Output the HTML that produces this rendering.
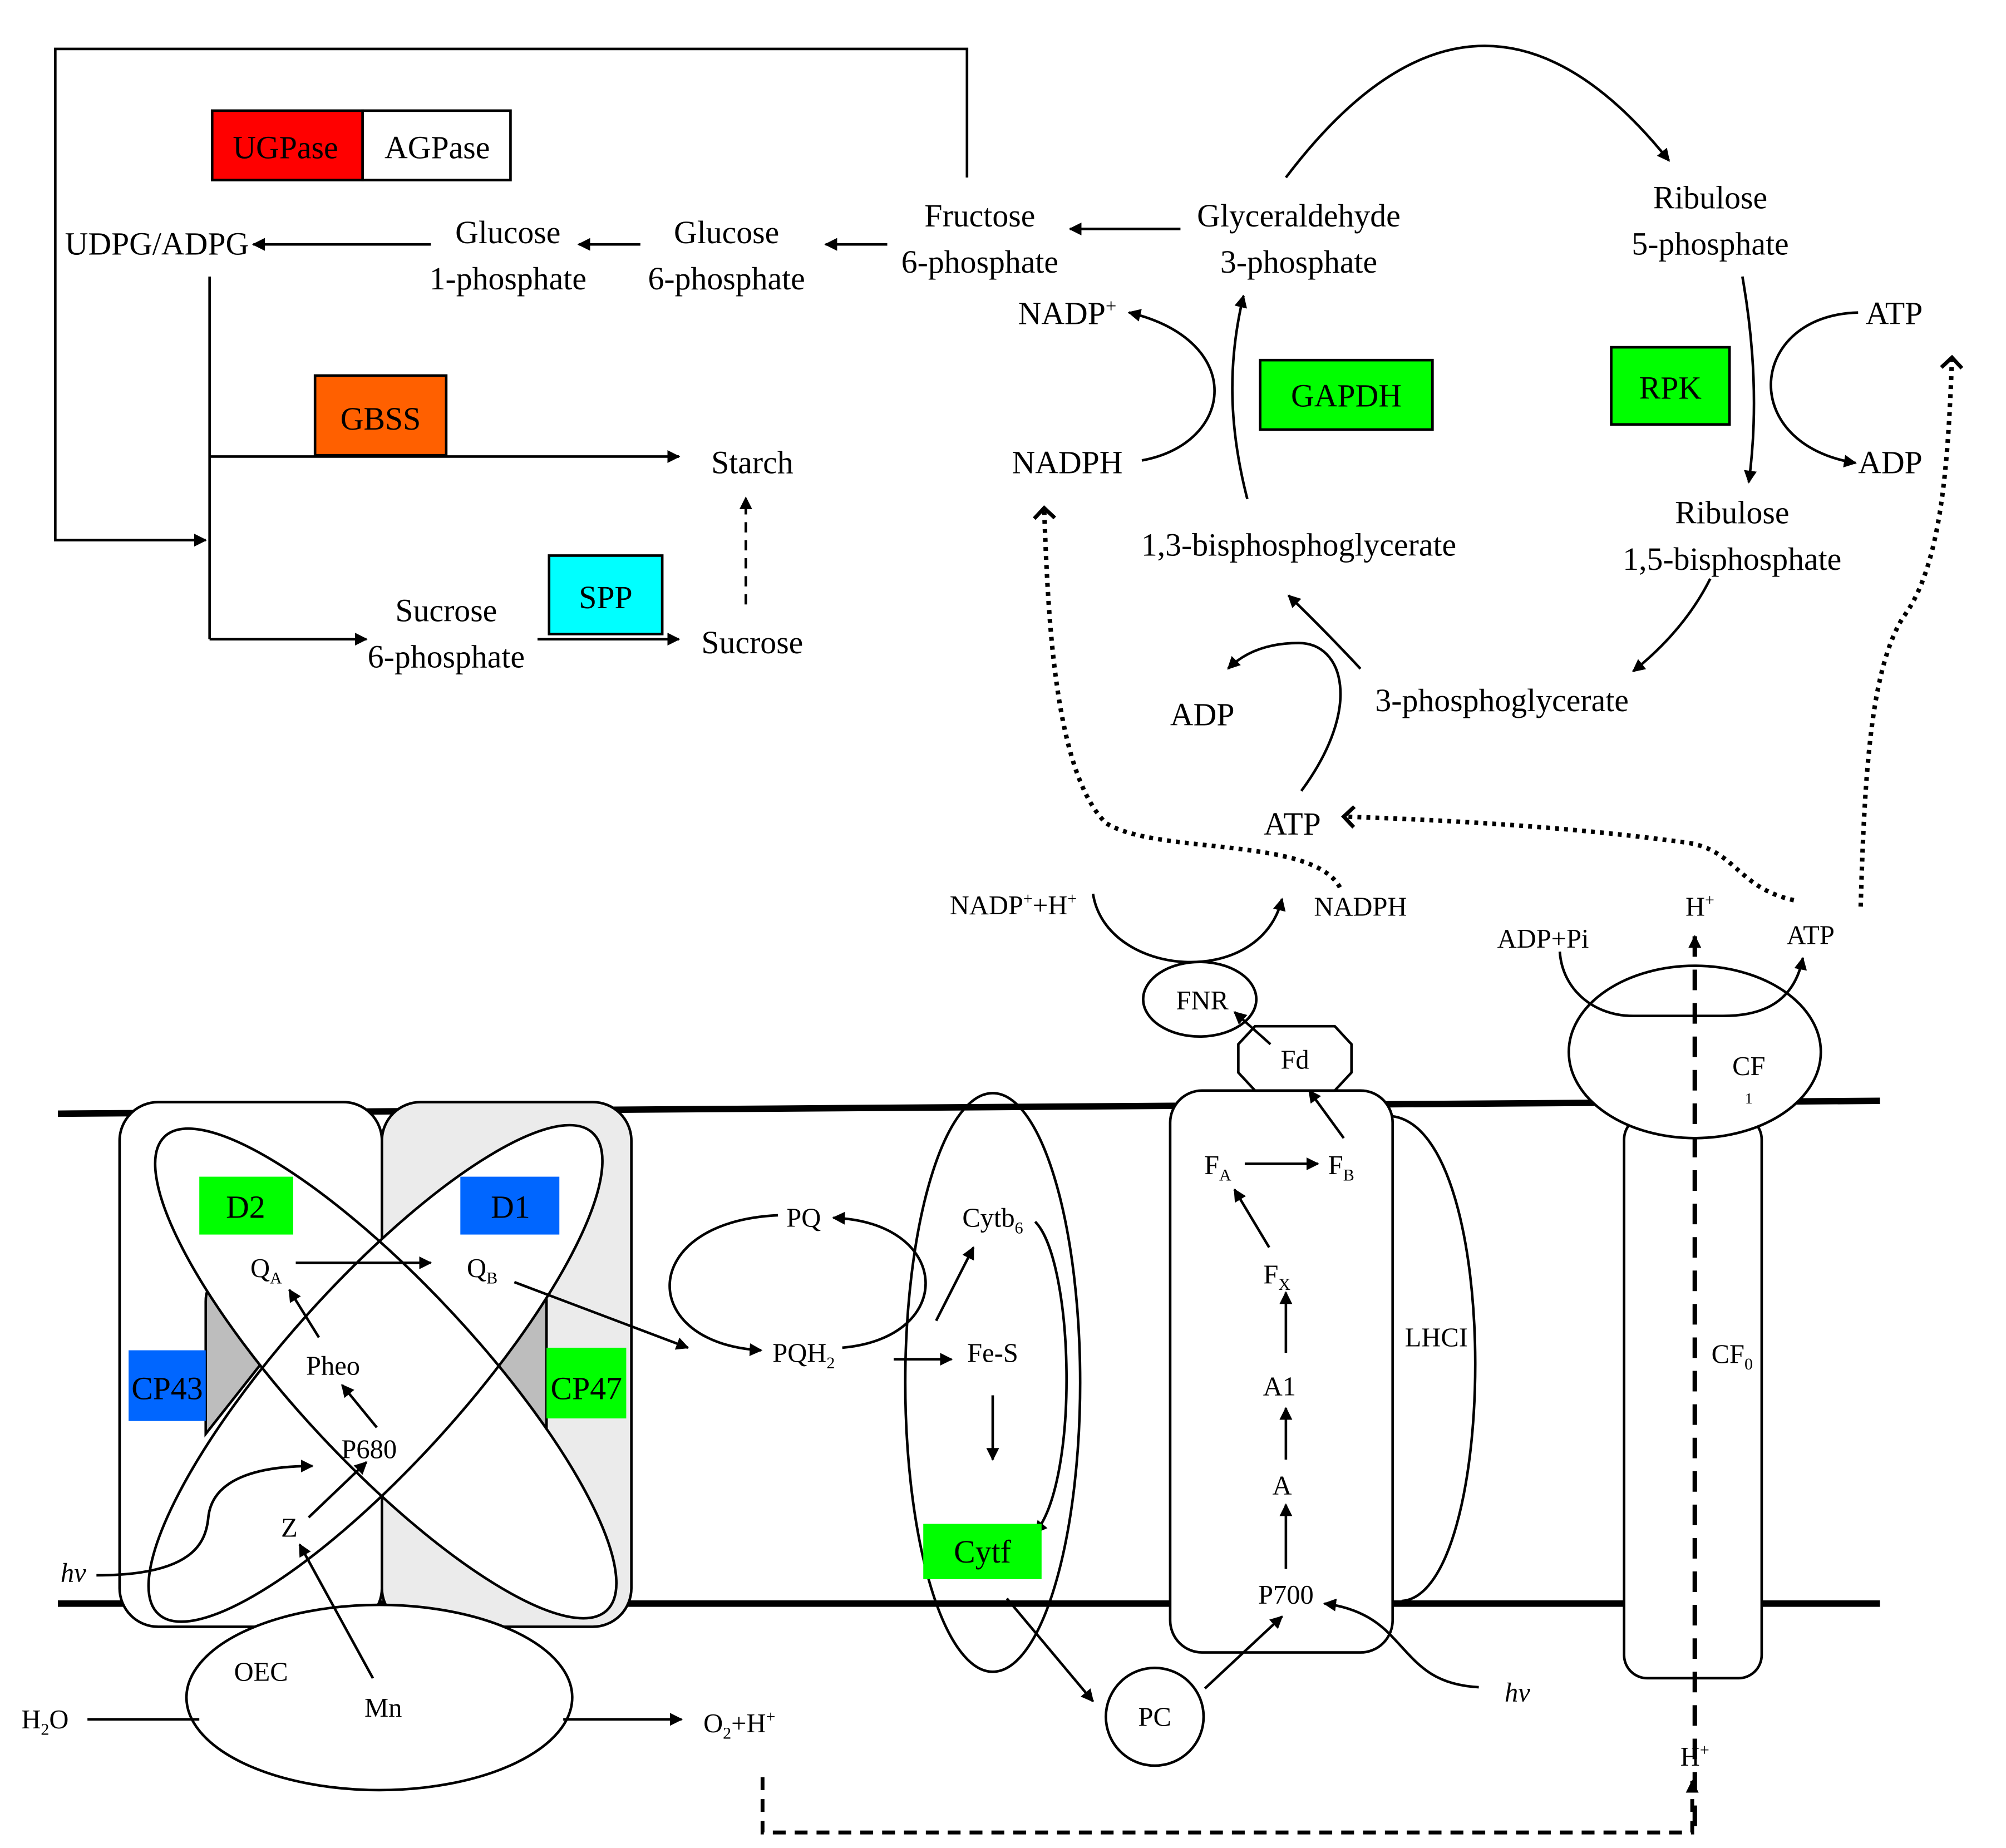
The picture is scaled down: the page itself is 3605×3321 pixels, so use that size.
<!DOCTYPE html>
<html><head><meta charset="utf-8"><style>
html,body{margin:0;padding:0;background:#fff}
svg{display:block}
text{font-family:"Liberation Serif",serif;fill:#000}
.t{font-size:25px;text-anchor:middle}
.s{font-size:21px;text-anchor:middle}
</style></head><body>
<svg width="3605" height="3321" viewBox="0 0 1560 1437" xmlns="http://www.w3.org/2000/svg">
<defs>
<marker id="a" markerWidth="10" markerHeight="10" refX="9" refY="5" orient="auto" markerUnits="userSpaceOnUse"><path d="M0,0 L10,5 L0,10 Z" fill="#000"/></marker>
<marker id="o" markerWidth="20" markerHeight="20" refX="10" refY="10" orient="auto" markerUnits="userSpaceOnUse"><path d="M2,2 L10,10 L2,18" fill="none" stroke="#000" stroke-width="3"/></marker>
</defs>
<g fill="none" stroke="#000" stroke-width="2">
<path d="M752,138 V38 H43 V420 H160" marker-end="url(#a)"/>
<line x1="335" y1="190" x2="197" y2="190" marker-end="url(#a)"/>
<line x1="498" y1="190" x2="450" y2="190" marker-end="url(#a)"/>
<line x1="690" y1="190" x2="642" y2="190" marker-end="url(#a)"/>
<line x1="918" y1="178" x2="832" y2="178" marker-end="url(#a)"/>
<path d="M1000,138 Q1150,-60 1298,125" marker-end="url(#a)"/>
<line x1="163" y1="215" x2="163" y2="497"/>
<line x1="163" y1="355" x2="528" y2="355" marker-end="url(#a)"/>
<line x1="163" y1="497" x2="285" y2="497" marker-end="url(#a)"/>
<line x1="418" y1="497" x2="528" y2="497" marker-end="url(#a)"/>
<line x1="580" y1="470" x2="580" y2="387" stroke-dasharray="8,6" marker-end="url(#a)"/>
<path d="M888,358 C960,345 970,265 878,243" marker-end="url(#a)"/>
<path d="M970,388 C955,330 955,280 967,230" marker-end="url(#a)"/>
<path d="M1355,215 Q1370,300 1360,375" marker-end="url(#a)"/>
<path d="M1445,243 C1360,245 1350,345 1443,360" marker-end="url(#a)"/>
<path d="M1330,450 Q1310,490 1270,522" marker-end="url(#a)"/>
<path d="M1058,520 Q1030,490 1002,463" marker-end="url(#a)"/>
<path d="M1012,615 C1060,550 1045,500 1010,500 Q975,500 955,520" marker-end="url(#a)"/>
<path d="M1042,690 C1020,650 900,665 860,640 C820,600 815,480 812,395" stroke-width="3.5" stroke-dasharray="3,4" marker-end="url(#o)"/>
<path d="M1395,700 C1350,690 1350,660 1310,655 Q1200,640 1045,635" stroke-width="3.5" stroke-dasharray="3,4" marker-end="url(#o)"/>
<path d="M1447,705 C1450,600 1455,520 1480,480 C1510,440 1515,360 1518,278" stroke-width="3.5" stroke-dasharray="3,4" marker-end="url(#o)"/>
<line x1="45" y1="866" x2="1462" y2="856" stroke-width="5"/>
<line x1="45" y1="1247" x2="1462" y2="1247" stroke-width="5"/>
</g>
<rect x="165" y="86" width="117" height="54" fill="#f00" stroke="#000" stroke-width="2"/>
<rect x="282" y="86" width="115" height="54" fill="#fff" stroke="#000" stroke-width="2"/>
<rect x="245" y="292" width="102" height="62" fill="#ff6000" stroke="#000" stroke-width="2"/>
<rect x="427" y="432" width="88" height="61" fill="#0ff" stroke="#000" stroke-width="2"/>
<rect x="980" y="280" width="134" height="54" fill="#00ff00" stroke="#000" stroke-width="2"/>
<rect x="1253" y="270" width="92" height="60" fill="#00ff00" stroke="#000" stroke-width="2"/>
<g>
<text class="t" x="222" y="123">UGPase</text>
<text class="t" x="340" y="123">AGPase</text>
<text class="t" x="296" y="334">GBSS</text>
<text class="t" x="471" y="473">SPP</text>
<text class="t" x="1047" y="316">GAPDH</text>
<text class="t" x="1299" y="310">RPK</text>
<text class="t" x="122" y="198">UDPG/ADPG</text>
<text class="t" x="395" y="189">Glucose</text><text class="t" x="395" y="225">1-phosphate</text>
<text class="t" x="565" y="189">Glucose</text><text class="t" x="565" y="225">6-phosphate</text>
<text class="t" x="762" y="176">Fructose</text><text class="t" x="762" y="212">6-phosphate</text>
<text class="t" x="1010" y="176">Glyceraldehyde</text><text class="t" x="1010" y="212">3-phosphate</text>
<text class="t" x="1330" y="162">Ribulose</text><text class="t" x="1330" y="198">5-phosphate</text>
<text class="t" x="585" y="368">Starch</text>
<text class="t" x="347" y="483">Sucrose</text><text class="t" x="347" y="519">6-phosphate</text>
<text class="t" x="585" y="508">Sucrose</text>
<text class="t" x="830" y="252">NADP<tspan font-size="15" dy="-9">+</tspan></text>
<text class="t" x="830" y="368">NADPH</text>
<text class="t" x="1010" y="432">1,3-bisphosphoglycerate</text>
<text class="t" x="1473" y="252">ATP</text>
<text class="t" x="1470" y="368">ADP</text>
<text class="t" x="1347" y="407">Ribulose</text><text class="t" x="1347" y="443">1,5-bisphosphate</text>
<text class="t" x="1168" y="553">3-phosphoglycerate</text>
<text class="t" x="935" y="564">ADP</text>
<text class="t" x="1005" y="649">ATP</text>
</g>
<rect x="93" y="857" width="204" height="408" rx="30" fill="#fff" stroke="#000" stroke-width="2"/>
<rect x="297" y="857" width="194" height="408" rx="30" fill="#ebebeb" stroke="#000" stroke-width="2"/>
<path d="M160,1115 V1012 Q160,1000 167,1000 L205,1058 Z" fill="#bdbdbd" stroke="#000" stroke-width="2"/>
<path d="M425,1115 V1012 Q425,1000 418,1000 L383,1058 Z" fill="#bdbdbd" stroke="#000" stroke-width="2"/>
<ellipse cx="300" cy="1068" rx="252" ry="70" transform="rotate(47 300 1068)" fill="#fff"/>
<ellipse cx="292" cy="1068" rx="252" ry="70" transform="rotate(-48 292 1068)" fill="#fff"/>
<ellipse cx="300" cy="1068" rx="252" ry="70" transform="rotate(47 300 1068)" fill="none" stroke="#000" stroke-width="2"/>
<ellipse cx="292" cy="1068" rx="252" ry="70" transform="rotate(-48 292 1068)" fill="none" stroke="#000" stroke-width="2"/>
<rect x="155" y="915" width="73" height="45" fill="#00ff00"/>
<rect x="358" y="915" width="77" height="45" fill="#0066ff"/>
<rect x="100" y="1050" width="60" height="55" fill="#0066ff"/>
<rect x="425" y="1048" width="62" height="55" fill="#00ff00"/>
<text class="t" x="191" y="947">D2</text>
<text class="t" x="397" y="947">D1</text>
<text class="t" x="130" y="1088">CP43</text>
<text class="t" x="456" y="1088">CP47</text>
<ellipse cx="295" cy="1320" rx="150" ry="72" fill="#fff" stroke="#000" stroke-width="2"/>
<g fill="none" stroke="#000" stroke-width="2">
<rect x="910" y="848" width="173" height="437" rx="25" fill="#fff"/>
<line x1="230" y1="982" x2="335" y2="982" marker-end="url(#a)"/>
<line x1="248" y1="1040" x2="225" y2="1003" marker-end="url(#a)"/>
<line x1="293" y1="1110" x2="266" y2="1077" marker-end="url(#a)"/>
<line x1="240" y1="1180" x2="285" y2="1137" marker-end="url(#a)"/>
<path d="M75,1225 C150,1225 160,1200 162,1180 C165,1150 200,1140 243,1140" marker-end="url(#a)"/>
<line x1="290" y1="1305" x2="233" y2="1201" marker-end="url(#a)"/>
<line x1="68" y1="1337" x2="155" y2="1337"/>
<line x1="438" y1="1337" x2="530" y2="1337" marker-end="url(#a)"/>
<line x1="400" y1="997" x2="535" y2="1048" marker-end="url(#a)"/>
<path d="M605,945 C495,950 495,1045 592,1050" marker-end="url(#a)"/>
<path d="M655,1048 C745,1040 740,950 648,947" marker-end="url(#a)"/>
<ellipse cx="772" cy="1075" rx="68" ry="225"/>
<line x1="728" y1="1027" x2="757" y2="970" marker-end="url(#a)"/>
<line x1="695" y1="1057" x2="740" y2="1057" marker-end="url(#a)"/>
<line x1="772" y1="1085" x2="772" y2="1135" marker-end="url(#a)"/>
<path d="M805,950 C835,980 840,1150 805,1192" marker-end="url(#a)"/>
<line x1="783" y1="1243" x2="850" y2="1323" marker-end="url(#a)"/>
<circle cx="898" cy="1335" r="38"/>
<line x1="937" y1="1313" x2="997" y2="1257" marker-end="url(#a)"/>
<path d="M1083,868 C1170,880 1165,1240 1090,1245"/>
<line x1="1000" y1="1220" x2="1000" y2="1170" marker-end="url(#a)"/>
<line x1="1000" y1="1135" x2="1000" y2="1095" marker-end="url(#a)"/>
<line x1="1000" y1="1052" x2="1000" y2="1005" marker-end="url(#a)"/>
<line x1="987" y1="970" x2="960" y2="925" marker-end="url(#a)"/>
<line x1="968" y1="905" x2="1025" y2="905" marker-end="url(#a)"/>
<line x1="1045" y1="885" x2="1018" y2="848" marker-end="url(#a)"/>
<path d="M1150,1312 C1110,1310 1100,1290 1080,1270 C1070,1260 1055,1250 1030,1247" marker-end="url(#a)"/>
<polygon points="976,798 1038,798 1051,812 1051,834 1038,848 976,848 963,834 963,812" fill="#fff"/>
<ellipse cx="933" cy="777" rx="44" ry="29" fill="#fff"/>
<line x1="988" y1="812" x2="960" y2="787" marker-end="url(#a)"/>
<path d="M850,695 C860,760 980,770 997,699" marker-end="url(#a)"/>
<rect x="1263" y="868" width="107" height="437" rx="18" fill="#fff"/>
<ellipse cx="1318" cy="818" rx="98" ry="67" fill="#fff"/>
<path d="M1213,740 C1215,770 1240,790 1270,790 H1340 C1370,790 1395,780 1402,745" marker-end="url(#a)"/>
<line x1="1318" y1="1420" x2="1318" y2="728" stroke-width="3.5" stroke-dasharray="16,10" marker-end="url(#a)"/>
<path d="M593,1382 V1425 H1316 V1385" stroke-width="3" stroke-dasharray="10,7" marker-end="url(#a)"/>
</g>
<rect x="718" y="1185" width="92" height="43" fill="#00ff00"/>
<g font-size="21">
<text class="s" x="207" y="993">Q<tspan font-size="13" dy="5">A</tspan></text>
<text class="s" x="375" y="993">Q<tspan font-size="13" dy="5">B</tspan></text>
<text class="s" x="259" y="1069">Pheo</text>
<text class="s" x="287" y="1134">P680</text>
<text class="s" x="225" y="1195">Z</text>
<text class="s" x="57" y="1230" font-style="italic">hv</text>
<text class="s" x="203" y="1307">OEC</text>
<text class="s" x="298" y="1335">Mn</text>
<text class="s" x="35" y="1344">H<tspan font-size="13" dy="5">2</tspan><tspan dy="-5">O</tspan></text>
<text class="s" x="575" y="1347">O<tspan font-size="13" dy="5">2</tspan><tspan dy="-5">+H</tspan><tspan font-size="13" dy="-8">+</tspan></text>
<text class="s" x="625" y="954">PQ</text>
<text class="s" x="625" y="1059">PQH<tspan font-size="13" dy="5">2</tspan></text>
<text class="s" x="772" y="954">Cytb<tspan font-size="13" dy="5">6</tspan></text>
<text class="s" x="772" y="1059">Fe-S</text>
<text class="t" x="764" y="1215">Cytf</text>
<text class="s" x="898" y="1342">PC</text>
<text class="s" x="1000" y="1247">P700</text>
<text class="s" x="997" y="1162">A</text>
<text class="s" x="995" y="1085">A1</text>
<text class="s" x="993" y="998">F<tspan font-size="13" dy="5">X</tspan></text>
<text class="s" x="947" y="913">F<tspan font-size="13" dy="5">A</tspan></text>
<text class="s" x="1043" y="913">F<tspan font-size="13" dy="5">B</tspan></text>
<text class="s" x="1007" y="831">Fd</text>
<text class="s" x="935" y="785">FNR</text>
<text class="s" x="1117" y="1047">LHCI</text>
<text class="s" x="1180" y="1323" font-style="italic">hv</text>
<text class="s" x="788" y="711">NADP<tspan font-size="13" dy="-8">+</tspan><tspan dy="8">+H</tspan><tspan font-size="13" dy="-8">+</tspan></text>
<text class="s" x="1058" y="712">NADPH</text>
<text class="s" x="1200" y="737">ADP+Pi</text>
<text class="s" x="1408" y="734">ATP</text>
<text class="s" x="1322" y="712">H<tspan font-size="13" dy="-8">+</tspan></text>
<text class="s" x="1318" y="1373">H<tspan font-size="13" dy="-8">+</tspan></text>
<text class="s" x="1360" y="836">CF</text>
<text x="1357" y="858" font-size="12">1</text>
<text class="s" x="1347" y="1060">CF<tspan font-size="13" dy="5">0</tspan></text>
</g>
</svg>
</body></html>
